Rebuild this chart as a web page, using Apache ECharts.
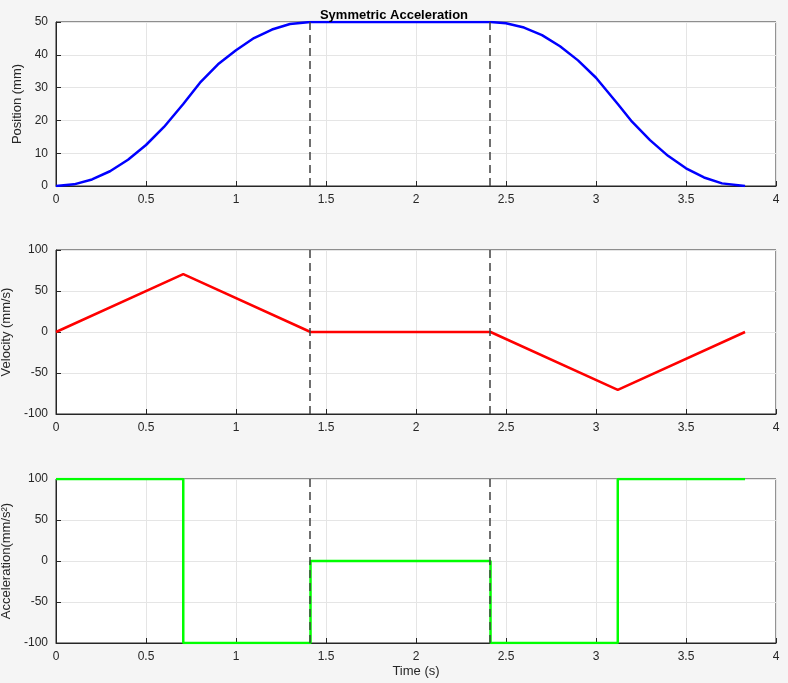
<!DOCTYPE html>
<html><head><meta charset="utf-8">
<script src="https://cdn.jsdelivr.net/npm/echarts@6/dist/echarts.min.js"></script>
<style>html,body{margin:0;background:#f5f5f5}#c{width:788px;height:683px}</style>
</head><body><div id="c"></div>
<script>
const posT=[0,0.1,0.2,0.3,0.4,0.5,0.6,0.707,0.8,0.9,1.0,1.1,1.2,1.3,1.414,2.414,2.5,2.6,2.7,2.8,2.9,3.0,3.121,3.2,3.3,3.4,3.5,3.6,3.7,3.828];
const posV=[0,0.5,2,4.5,8,12.5,18,25,31.5,37.1,41.4,45.1,47.7,49.4,50,50,49.6,48.3,46.0,42.6,38.3,33.0,25,19.6,14,9.2,5.4,2.6,0.8,0];
const velT=[0,0.707,1.414,2.414,3.121,3.828];
const velV=[0,70.7,0,0,-70.7,0];
const accT=[0,0.707,0.707,1.414,1.414,2.414,2.414,3.121,3.121,3.828];
const accV=[100,100,-100,-100,0,0,-100,-100,100,100];
const dashT=[1.414,2.414];
const xTicks=[0,0.5,1,1.5,2,2.5,3,3.5,4];
const zip=(a,b)=>a.map((t,i)=>[t,b[i]]);
const tops=[22,250,479], H=164;
const yCfg=[{min:0,max:50,interval:10,name:'Position (mm)'},{min:-100,max:100,interval:50,name:'Velocity (mm/s)'},{min:-100,max:100,interval:50,name:'Acceleration(mm/s²)'}];
const lbl={color:'#262626',fontSize:12,fontFamily:'Arial'};
const ax={onZero:false,lineStyle:{color:'#262626'}};
const grid=tops.map(t=>({left:56,right:12,top:t,height:H,show:true,containLabel:false,outerBoundsMode:'none',borderColor:'#262626',borderWidth:1,backgroundColor:'#fff'}));
const xAxis=tops.map((t,i)=>({type:'value',gridIndex:i,min:0,max:4,interval:0.5,axisLine:ax,axisTick:{inside:true,lineStyle:{color:'#262626'}},axisLabel:lbl,splitLine:{lineStyle:{color:'#e5e5e5'}},name:i==2?'Time (s)':'',nameLocation:'middle',nameGap:22,nameTextStyle:{color:'#262626',fontSize:13,fontFamily:'Arial'}}));
const yAxis=yCfg.map((c,i)=>({type:'value',gridIndex:i,min:c.min,max:c.max,interval:c.interval,name:c.name,nameLocation:'middle',nameGap:30,nameTextStyle:{color:'#262626',fontSize:13,fontFamily:'Arial'},axisLine:ax,axisTick:{inside:true,lineStyle:{color:'#262626'}},axisLabel:lbl,splitLine:{lineStyle:{color:'#e5e5e5'}}}));
const ml={silent:true,symbol:'none',label:{show:false},lineStyle:{color:'#404040',type:[8,5],width:1.5},data:dashT.map(x=>({xAxis:x}))};
const data=[zip(posT,posV),zip(velT,velV),zip(accT,accV)];
const cols=['#0000ff','#ff0000','#00ff00'];
const series=data.map((d,i)=>({type:'line',xAxisIndex:i,yAxisIndex:i,data:d,smooth:false,symbol:'none',lineStyle:{color:cols[i],width:2.5},markLine:ml,z:i==2?1:2}));
echarts.init(document.getElementById('c')).setOption({animation:false,backgroundColor:'#f5f5f5',
title:{text:'Symmetric Acceleration',left:'center',top:4,textStyle:{fontSize:13,fontWeight:'bold',color:'#000',fontFamily:'Arial'}},
grid,xAxis,yAxis,series});
</script></body></html>
